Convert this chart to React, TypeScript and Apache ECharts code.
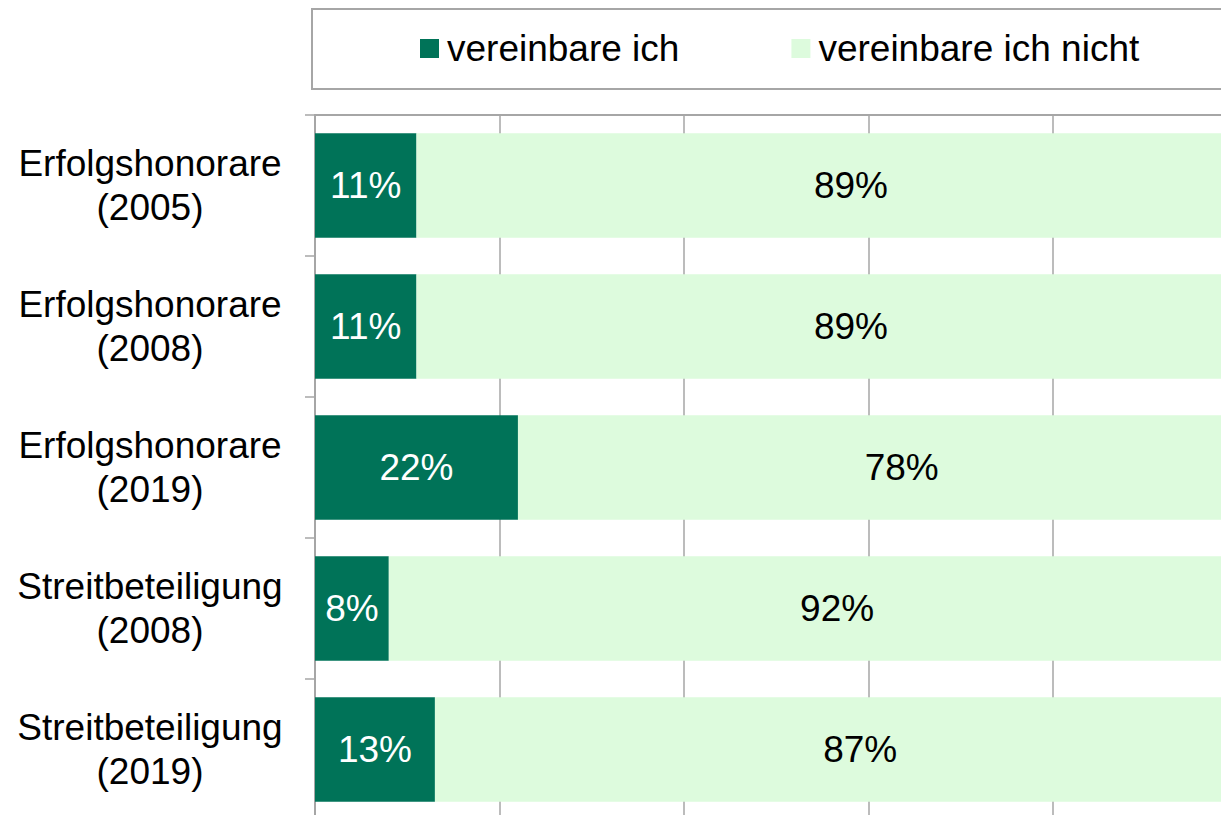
import React, { useEffect, useRef } from "react";
import * as echarts from "echarts";

const categories = [
  "Erfolgshonorare\n(2005)",
  "Erfolgshonorare\n(2008)",
  "Erfolgshonorare\n(2019)",
  "Streitbeteiligung\n(2008)",
  "Streitbeteiligung\n(2019)",
];
const seriesNames = ["vereinbare ich", "vereinbare ich nicht"];
const agreeValues = [11, 11, 22, 8, 13];
const disagreeValues = [89, 89, 78, 92, 87];

const FONT = "'Liberation Sans', Arial, sans-serif";
const DARK = "#007358";
const LIGHT = "#DDFBDD";
const GRID_GRAY = "#a6a6a6";

export default function App() {
  const ref = useRef<HTMLDivElement>(null);
  useEffect(() => {
    if (!ref.current) return;
    const chart = echarts.init(ref.current, undefined, { renderer: "svg" });
    chart.setOption({
      animation: false,
      backgroundColor: "#ffffff",
      textStyle: { fontFamily: FONT },
      graphic: [
        {
          type: "rect",
          shape: { x: 312, y: 9, width: 1000, height: 80 },
          style: { fill: "none", stroke: GRID_GRAY, lineWidth: 2 },
          z: -1,
        },
      ],
      legend: {
        left: 420,
        top: 30,
        padding: 0,
        itemWidth: 19,
        itemHeight: 19,
        itemGap: 112,
        icon: "rect",
        data: seriesNames,
        textStyle: { fontSize: 37, color: "#000", fontFamily: FONT, padding: [0, 0, 0, 3] },
      },
      grid: {
        left: 315,
        top: 115,
        width: 922.5,
        height: 705,
        containLabel: false,
        outerBoundsMode: "none",
      },
      xAxis: {
        type: "value",
        position: "top",
        min: 0,
        max: 100,
        interval: 20,
        axisLine: { show: true, lineStyle: { color: GRID_GRAY, width: 2 } },
        axisTick: { show: false },
        axisLabel: { show: false },
        splitLine: { show: true, lineStyle: { color: GRID_GRAY, width: 1.5 } },
      },
      yAxis: {
        type: "category",
        inverse: true,
        data: categories,
        axisLine: { show: true, lineStyle: { color: GRID_GRAY, width: 2 } },
        axisTick: { show: true, length: 10, lineStyle: { color: GRID_GRAY, width: 1.5 } },
        axisLabel: {
          fontSize: 37,
          lineHeight: 44,
          color: "#000",
          align: "center",
          margin: 165,
          fontFamily: FONT,
        },
      },
      series: [
        {
          name: seriesNames[0],
          type: "bar",
          stack: "total",
          barWidth: 104.5,
          data: agreeValues,
          itemStyle: { color: DARK },
          label: {
            show: true,
            position: "inside",
            formatter: "{c}%",
            color: "#fff",
            fontSize: 37,
            fontFamily: FONT,
          },
        },
        {
          name: seriesNames[1],
          type: "bar",
          stack: "total",
          barWidth: 104.5,
          data: disagreeValues,
          itemStyle: { color: LIGHT },
          label: {
            show: true,
            position: "inside",
            formatter: "{c}%",
            color: "#000",
            fontSize: 37,
            fontFamily: FONT,
            offset: [24, 0],
          },
        },
      ],
    });
    return () => chart.dispose();
  }, []);
  return (
    <div
      ref={ref}
      style={{ position: "fixed", left: 0, top: 0, width: 1221, height: 815, background: "#fff" }}
    />
  );
}
